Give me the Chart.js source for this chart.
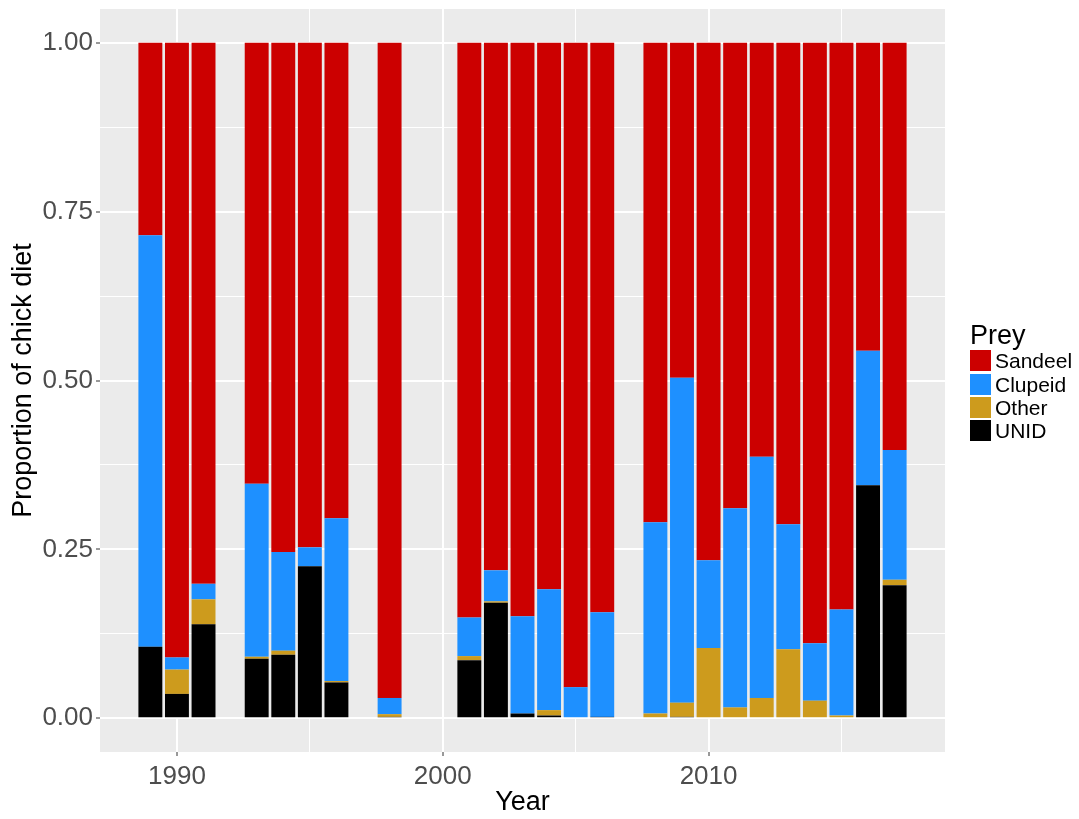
<!DOCTYPE html>
<html>
<head>
<meta charset="utf-8">
<script src="https://cdn.jsdelivr.net/npm/chart.js@4.4.1/dist/chart.umd.min.js"></script>
<style>
  body { margin: 0; background: #fff; }
  #wrap { position: relative; width: 1079px; height: 819px; font-family: "Liberation Sans", Arial, sans-serif; }
  #legend { position: absolute; left: 970px; top: 320px; color: #000; }
  #legend .title { font-size: 27px; line-height: 30px; height: 29px; }
  #legend .row { display: flex; align-items: center; height: 23.4px; }
  #legend .key { width: 21px; height: 21px; margin-right: 4px; }
  #legend .lbl { font-size: 21px; line-height: 23px; }
</style>
</head>
<body>
<div id="wrap">
  <canvas id="myChart" width="1079" height="819"></canvas>
  <div id="legend"></div>
</div>
<script>
const years = [1989, 1990, 1991, 1993, 1994, 1995, 1996, 1998, 2001, 2002, 2003, 2004,
  2005, 2006, 2008, 2009, 2010, 2011, 2012, 2013, 2014, 2015, 2016, 2017];
const sandeel = [0.285, 0.910, 0.801, 0.653, 0.754, 0.747, 0.704, 0.970, 0.851, 0.781, 0.849, 0.809,
  0.954, 0.843, 0.710, 0.496, 0.766, 0.689, 0.613, 0.713, 0.889, 0.839, 0.456, 0.603];
const clupeid = [0.609, 0.018, 0.023, 0.256, 0.146, 0.028, 0.241, 0.024, 0.057, 0.046, 0.144, 0.179,
  0.046, 0.155, 0.283, 0.481, 0.130, 0.295, 0.357, 0.185, 0.085, 0.157, 0.199, 0.192];
const other = [0, 0.036, 0.037, 0.003, 0.006, 0, 0.002, 0.004, 0.006, 0.002, 0, 0.008,
  0, 0, 0.007, 0.021, 0.104, 0.016, 0.030, 0.102, 0.026, 0.004, 0, 0.008];
const unid = [0.106, 0.036, 0.139, 0.088, 0.094, 0.225, 0.053, 0.002, 0.086, 0.171, 0.007, 0.004,
  0, 0.002, 0, 0.002, 0, 0, 0, 0, 0, 0, 0.345, 0.197];

const preyNames = ['Sandeel', 'Clupeid', 'Other', 'UNID'];
const preyColors = ['#CC0000', '#1E90FF', '#CD9B1D', '#000000'];
const seriesValues = [sandeel, clupeid, other, unid];

const xMajorTicks = [1990, 2000, 2010];
const xMinorTicks = [1995, 2005, 2015];
const yMajorTicks = [0, 0.25, 0.5, 0.75, 1];
const yMinorTicks = [0.125, 0.375, 0.625, 0.875];

const FONT = '"Liberation Sans", Arial, sans-serif';

// ggplot stacks the first level on top, chart.js stacks the first dataset at the bottom
const datasets = preyNames.map((name, i) => ({
  label: name,
  data: years.map((yr, j) => ({ x: yr, y: seriesValues[i][j] })),
  backgroundColor: preyColors[i],
  borderWidth: 0,
  barPercentage: 0.9,
  categoryPercentage: 1
})).reverse();

const allTicks = (major, minor) => major.concat(minor).sort((a, b) => a - b).map(v => ({ value: v }));
const isMajor = (list, c) => c.tick && list.some(v => Math.abs(v - c.tick.value) < 1e-9);

const panelBg = {
  id: 'panelBg',
  beforeDraw(chart) {
    const { ctx, chartArea: a } = chart;
    ctx.save();
    ctx.fillStyle = '#EBEBEB';
    ctx.fillRect(a.left, a.top, a.right - a.left, a.bottom - a.top);
    ctx.restore();
  }
};

new Chart(document.getElementById('myChart'), {
  type: 'bar',
  data: { datasets },
  plugins: [panelBg],
  options: {
    responsive: false,
    animation: false,
    layout: { padding: { top: 9, right: 134, bottom: 0, left: 0 } },
    plugins: { legend: { display: false }, tooltip: { enabled: false } },
    scales: {
      x: {
        type: 'linear',
        stacked: true,
        min: 1987.105,
        max: 2018.895,
        offset: false,
        afterBuildTicks: s => { s.ticks = allTicks(xMajorTicks, xMinorTicks); },
        afterFit: s => { s.height = 67; s.paddingLeft = 0; s.paddingRight = 0; },
        border: { display: false },
        grid: {
          offset: false,
          color: '#FFFFFF',
          lineWidth: c => isMajor(xMajorTicks, c) ? 2 : 1,
          tickLength: 4,
          tickWidth: 1,
          tickColor: c => isMajor(xMajorTicks, c) ? '#333333' : 'rgba(0,0,0,0)'
        },
        ticks: {
          autoSkip: false,
          maxRotation: 0,
          padding: 5,
          color: '#4D4D4D',
          font: { family: FONT, size: 26 },
          callback: v => xMajorTicks.includes(v) ? String(v) : ''
        },
        title: {
          display: true,
          text: 'Year',
          color: '#000000',
          font: { family: FONT, size: 27 },
          padding: { top: 0, bottom: 0 }
        }
      },
      y: {
        stacked: true,
        min: -0.05,
        max: 1.05,
        afterBuildTicks: s => { s.ticks = allTicks(yMajorTicks, yMinorTicks); },
        afterFit: s => { s.width = 100; s.paddingTop = 0; s.paddingBottom = 0; },
        border: { display: false },
        grid: {
          color: '#FFFFFF',
          lineWidth: c => isMajor(yMajorTicks, c) ? 2 : 1,
          tickLength: 4,
          tickWidth: 1,
          tickColor: c => isMajor(yMajorTicks, c) ? '#333333' : 'rgba(0,0,0,0)'
        },
        ticks: {
          autoSkip: false,
          padding: 3,
          color: '#4D4D4D',
          font: { family: FONT, size: 26 },
          callback: v => yMajorTicks.some(m => Math.abs(m - v) < 1e-9) ? v.toFixed(2) : ''
        },
        title: {
          display: true,
          text: 'Proportion of chick diet',
          color: '#000000',
          font: { family: FONT, size: 27 },
          padding: { top: 7, bottom: 0 }
        }
      }
    }
  }
});

// legend, in ggplot order
const legend = document.getElementById('legend');
let html = '<div class="title">Prey</div>';
preyNames.forEach((name, i) => {
  html += '<div class="row"><div class="key" style="background:' + preyColors[i] + '"></div>' +
    '<div class="lbl">' + name + '</div></div>';
});
legend.innerHTML = html;
</script>
</body>
</html>
